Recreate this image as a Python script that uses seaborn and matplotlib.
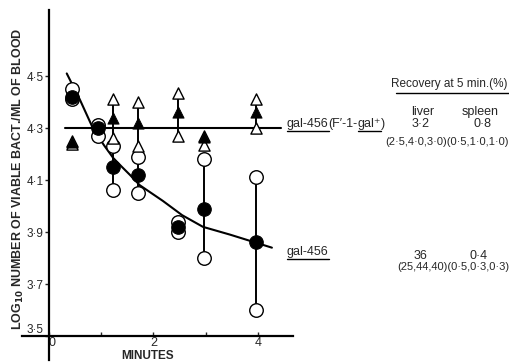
import seaborn as sns
import matplotlib.pyplot as plt
from matplotlib.lines import Line2D
from matplotlib.ticker import FixedLocator, FuncFormatter

# gal-456: filled circle = mean, open circles = individual extremes
t_gal = [0.44, 0.94, 1.22, 1.70, 2.47, 2.96, 3.96]
mean_gal = [4.42, 4.30, 4.15, 4.12, 3.92, 3.99, 3.86]
hi_gal = [4.45, 4.31, 4.23, 4.19, 3.94, 4.18, 4.11]
lo_gal = [4.41, 4.27, 4.06, 4.05, 3.90, 3.80, 3.60]

# gal-456 (F'-1-gal+): filled triangle = mean, open triangles = extremes
t_fgal = [0.44, 1.22, 1.70, 2.47, 2.96, 3.96]
mean_fgal = [4.245, 4.34, 4.32, 4.36, 4.265, 4.36]
hi_fgal = [4.25, 4.41, 4.40, 4.435, 4.27, 4.41]
lo_fgal = [4.24, 4.26, 4.23, 4.27, 4.235, 4.30]

# hand drawn curves
curve_t = [0.34, 0.59, 0.84, 1.05, 1.23, 1.40, 1.55, 1.74, 2.18, 2.55, 2.95, 3.47, 3.95, 4.27]
curve_v = [4.51, 4.41, 4.30, 4.235, 4.185, 4.15, 4.12, 4.08, 4.02, 3.965, 3.92, 3.89, 3.86, 3.84]
flat_t = [0.31, 4.45]
flat_v = [4.30, 4.30]

yticks = [3.5, 3.7, 3.9, 4.1, 4.3, 4.5]
xticks = [0, 2, 4]
xminor = [1, 3]

W, H = 510, 364

sns.set_style('white')
plt.rcParams['font.family'] = ['Liberation Sans', 'DejaVu Sans']

fig = plt.figure(figsize=(W / 100, H / 100), dpi=100)
ax = fig.add_axes([22 / W, 4 / H, 271 / W, 350 / H])

# range bars
ax.vlines(t_gal, lo_gal, hi_gal, color='black', lw=1.4, zorder=1)
ax.vlines(t_fgal, lo_fgal, hi_fgal, color='black', lw=1.4, zorder=1)

# fitted lines
sns.lineplot(x=curve_t, y=curve_v, color='black', lw=1.5, sort=False,
             estimator=None, ax=ax, zorder=2)
sns.lineplot(x=flat_t, y=flat_v, color='black', lw=1.5, sort=False,
             estimator=None, ax=ax, zorder=2)

# open markers
for lo_hi in (lo_gal, hi_gal):
    sns.scatterplot(x=t_gal, y=lo_hi, marker='o', s=95, color='white',
                    edgecolor='black', linewidth=1.0, ax=ax, zorder=3)
for lo_hi in (lo_fgal, hi_fgal):
    sns.scatterplot(x=t_fgal, y=lo_hi, marker='^', s=65, color='white',
                    edgecolor='black', linewidth=1.0, ax=ax, zorder=3)

# filled markers
sns.scatterplot(x=t_gal, y=mean_gal, marker='o', s=95, color='black',
                edgecolor='black', ax=ax, zorder=4)
sns.scatterplot(x=t_fgal, y=mean_fgal, marker='^', s=65, color='black',
                edgecolor='black', ax=ax, zorder=4)

ax.set_xlim(-0.517, 4.674)
ax.set_ylim(3.408, 4.754)

for s in ['top', 'right']:
    ax.spines[s].set_visible(False)
ax.spines['left'].set_position(('data', 0))
ax.spines['bottom'].set_position(('data', 3.5))
for s in ['left', 'bottom']:
    ax.spines[s].set_linewidth(1.6)
    ax.spines[s].set_color('black')

dot = FuncFormatter(lambda v, pos: format(v, 'g').replace('.', '\u00b7'))
ax.yaxis.set_major_locator(FixedLocator(yticks))
ax.yaxis.set_major_formatter(dot)
ax.xaxis.set_major_locator(FixedLocator(xticks))
ax.xaxis.set_minor_locator(FixedLocator(xminor))
ax.xaxis.set_major_formatter(dot)
ax.tick_params(axis='y', direction='out', length=3, width=1, pad=1,
               labelsize=8.5, left=True)
ax.tick_params(axis='x', which='both', direction='in', length=3, width=1,
               pad=1, labelsize=9, bottom=True)
ax.get_xticklabels()[0].set_horizontalalignment('left')
ax.get_yticklabels()[0].set_verticalalignment('bottom')

ax.set_xlabel('')
ax.set_ylabel('')


def px(x, y):
    return x / W, 1 - y / H


def underline(x0, x1, y):
    fig.add_artist(Line2D([x0 / W, x1 / W], [1 - y / H] * 2,
                          transform=fig.transFigure, color='black', lw=1))


def pieces(x, y, parts, fs):
    # text written piece by piece, underlining the pieces flagged True
    r = fig.canvas.get_renderer()
    for s, ul in parts:
        t = fig.text(*px(x, y), s, ha='left', va='baseline', fontsize=fs)
        bb = t.get_window_extent(r)
        if ul:
            underline(bb.x0, bb.x1, y + 4)
        x = bb.x1


fig.text(*px(148, 356), 'MINUTES', ha='center', va='center',
         fontsize=8.5, fontweight='bold')
fig.text(*px(18, 179), r'LOG$_{\mathbf{10}}$ NUMBER OF VIABLE BACT./ML OF BLOOD',
         rotation=90, ha='center', va='center', fontsize=9, fontweight='bold')

fs = 9
fig.text(*px(508, 84), 'Recovery at 5 min.(%)', ha='right', va='center', fontsize=8.5)
underline(396, 510, 93)
fig.text(*px(423, 112), 'liver', ha='center', va='center', fontsize=fs)
fig.text(*px(480, 112), 'spleen', ha='center', va='center', fontsize=fs)

pieces(287, 127, [('gal-456', True), ('(F\u2032-1-', False),
                  ('gal\u207a', True), (')', False)], fs)
fig.text(*px(421, 124), '3\u00b72', ha='center', va='center', fontsize=fs)
fig.text(*px(483, 124), '0\u00b78', ha='center', va='center', fontsize=fs)
fig.text(*px(509, 142), '(2\u00b75,4\u00b70,3\u00b70)(0\u00b75,1\u00b70,1\u00b70)',
         ha='right', va='center', fontsize=8)

pieces(287, 255, [('gal-456', True)], fs)
fig.text(*px(421, 256), '36', ha='center', va='center', fontsize=fs)
fig.text(*px(479, 256), '0\u00b74', ha='center', va='center', fontsize=fs)
fig.text(*px(509, 267), '(25,44,40)(0\u00b75,0\u00b73,0\u00b73)',
         ha='right', va='center', fontsize=8)

fig.savefig('out.png', dpi=100)
